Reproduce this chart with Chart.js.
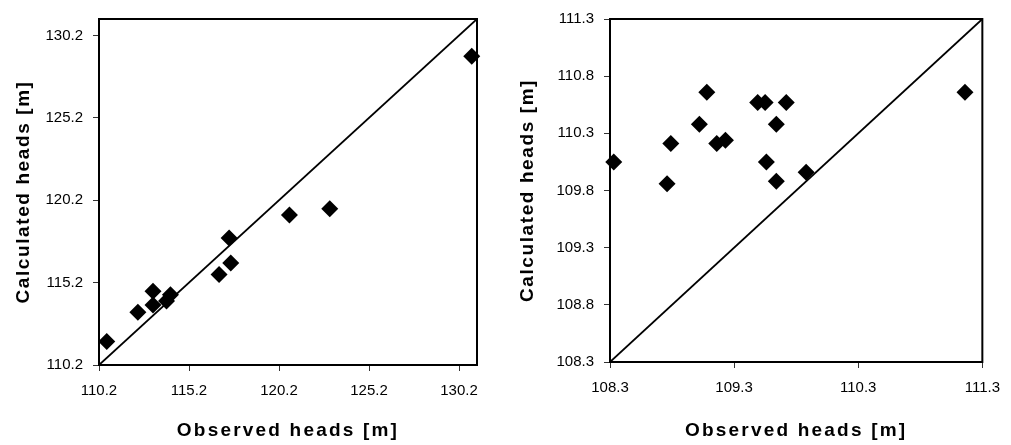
<!DOCTYPE html>
<html>
<head>
<meta charset="utf-8">
<title>Observed vs calculated heads</title>
<script src="https://cdn.jsdelivr.net/npm/chart.js@4/dist/chart.umd.min.js"></script>
<style>
  html, body { margin: 0; padding: 0; background: #fff; }
  #wrap { position: relative; width: 1011px; height: 445px; }
  .box { position: absolute; top: 0; height: 445px; }
  #boxLeft { left: 0; width: 500px; }
  #boxRight { left: 500px; width: 511px; }
</style>
</head>
<body>
<div id="wrap">
  <div class="box" id="boxLeft"><canvas id="chartLeft" width="500" height="445"></canvas></div>
  <div class="box" id="boxRight"><canvas id="chartRight" width="511" height="445"></canvas></div>
</div>
<script>
// left panel: whole range of wells
const leftObserved   = [110.63, 112.36, 113.20, 113.20, 113.95, 114.17, 116.87, 117.52, 117.43, 120.78, 123.02, 130.91];
const leftCalculated = [111.63, 113.40, 114.67, 113.84, 114.08, 114.47, 115.70, 116.39, 117.91, 119.30, 119.68, 128.94];
const leftRange  = [110.2, 131.2];           // 1:1 line ends = axis limits
const leftTicks  = [110.2, 115.2, 120.2, 125.2, 130.2];

// right panel: zoom on the 108–111 m group
const rightObserved   = [108.33, 108.76, 108.79, 109.02, 109.08, 109.16, 109.23, 109.49, 109.55, 109.56, 109.64, 109.64, 109.72, 109.88, 111.16];
const rightCalculated = [110.05, 109.86, 110.21, 110.38, 110.66, 110.21, 110.24, 110.57, 110.57, 110.05, 110.38, 109.88, 110.57, 109.96, 110.66];
const rightRange  = [108.3, 111.3];
const rightTicksX = [108.3, 109.3, 110.3, 111.3];
const rightTicksY = [108.3, 108.8, 109.3, 109.8, 110.3, 110.8, 111.3];

const INK = "#000";
const FAMILY = "'Liberation Sans', Arial, sans-serif";
const TICK_FONT  = { family: FAMILY, size: 15 };
const TITLE_FONT = { family: FAMILY, size: 19, weight: "bold" };

function $(id){ return document.getElementById(id); }

// box round the plot area
const frame = {
  id: "frame",
  beforeDatasetsDraw(chart){
    const { ctx, chartArea: a } = chart;
    ctx.save();
    ctx.strokeStyle = INK;
    ctx.lineWidth = 2;
    ctx.strokeRect(a.left, a.top, a.right - a.left, a.bottom - a.top);
    ctx.restore();
  }
};

// axis titles are drawn a bit spread out
const titleSpacing = {
  id: "titleSpacing",
  beforeDraw(chart){
    const gap = { x: "2.2px", y: "1.6px" };
    for (const s of Object.values(chart.scales)){
      if (s._spaced) continue;
      const orig = s.drawTitle;
      s.drawTitle = function(){
        const prev = this.ctx.letterSpacing;
        this.ctx.letterSpacing = gap[this.id] || "0px";
        orig.call(this);
        this.ctx.letterSpacing = prev;
      };
      s._spaced = true;
    }
  }
};

function axis(ticks, range, title, size, titlePad, isX){
  return {
    type: "linear",
    position: isX ? "bottom" : "left",
    min: range[0],
    max: range[1],
    afterBuildTicks: s => { s.ticks = ticks.map(v => ({ value: v })); },
    afterFit: s => { if (isX) s.height = size; else s.width = size; },
    border: { display: false },
    grid: { drawOnChartArea: false, drawTicks: true, tickLength: 6, tickColor: "#333", lineWidth: 1 },
    ticks: {
      color: INK,
      font: TICK_FONT,
      padding: isX ? 11 : 10,
      autoSkip: false,
      maxRotation: 0,
      callback: v => Number(v).toFixed(1)
    },
    title: {
      display: true,
      text: title,
      color: INK,
      font: TITLE_FONT,
      padding: isX ? { bottom: titlePad, top: 0 } : { top: titlePad, bottom: 0 }
    }
  };
}

function drawPanel(id, observed, calculated, range, ticksX, ticksY, box){
  const points = observed.map((x, i) => ({ x, y: calculated[i] }));
  return new Chart($(id), {
    type: "scatter",
    data: {
      datasets: [{
        data: points,
        pointStyle: "rectRot",
        pointRadius: 8.5,
        pointBackgroundColor: INK,
        pointBorderColor: INK,
        pointBorderWidth: 0,
        clip: false
      }, {
        data: range.map(v => ({ x: v, y: v })),
        showLine: true,
        borderColor: INK,
        borderWidth: 1.8,
        pointRadius: 0
      }]
    },
    options: {
      responsive: false,
      animation: false,
      layout: { padding: { top: 10, right: box.right, left: 0, bottom: 0 } },
      plugins: { legend: { display: false }, tooltip: { enabled: false } },
      scales: {
        x: axis(ticksX, range, "Observed heads [m]", box.xHeight, 2.5, true),
        y: axis(ticksY, range, "Calculated heads [m]", box.yWidth, box.yTitle, false)
      }
    },
    plugins: [frame, titleSpacing]
  });
}

drawPanel("chartLeft", leftObserved, leftCalculated, leftRange, leftTicks, leftTicks,
  { right: 23, xHeight: 80, yWidth: 99, yTitle: 12.5 });
drawPanel("chartRight", rightObserved, rightCalculated, rightRange, rightTicksX, rightTicksY,
  { right: 28, xHeight: 83, yWidth: 110, yTitle: 16.5 });
</script>
</body>
</html>
